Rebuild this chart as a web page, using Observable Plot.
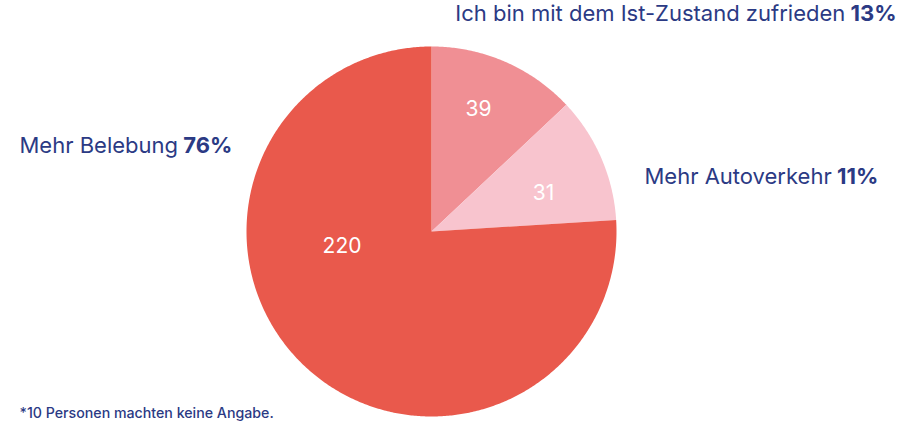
<!DOCTYPE html>
<html>
<head>
<meta charset="utf-8">
<script src="https://cdn.jsdelivr.net/npm/d3@7"></script>
<script src="https://cdn.jsdelivr.net/npm/@observablehq/plot@0.6"></script>
<style>
  html, body { margin: 0; padding: 0; background: #ffffff; }
  #chart svg { display: block; }
  #chart text { white-space: pre; }
</style>
</head>
<body>
<div id="chart"></div>
<script>
// ---- data ----
const categories = ["Ich bin mit dem Ist-Zustand zufrieden", "Mehr Autoverkehr", "Mehr Belebung"];
const counts = [39, 31, 220];
const percents = [13, 11, 76];
const colors = ["#F08F94", "#F8C4CE", "#E9594C"];
const footnote = "*10 Personen machten keine Angabe.";

// ---- layout ----
const W = 913, H = 425;
const cx = 431, cy = 231, R = 185;
const navy = "#2B3A84";
const font = "Inter, 'Noto Sans', sans-serif";

// slice angles (clockwise from 12 o'clock) from percentages
const slices = [];
let acc = 0;
categories.forEach((c, i) => {
  const a0 = acc / 100 * 2 * Math.PI;
  acc += percents[i];
  const a1 = acc / 100 * 2 * Math.PI;
  slices.push({category: c, count: counts[i], percent: percents[i], a0, a1});
});

// polygon points for each slice
const pts = [];
slices.forEach(s => {
  pts.push({category: s.category, x: cx, y: cy});
  const n = Math.max(2, Math.ceil((s.a1 - s.a0) / (Math.PI / 360)));
  for (let k = 0; k <= n; k++) {
    const a = s.a0 + (s.a1 - s.a0) * k / n;
    pts.push({category: s.category, x: cx + R * Math.sin(a), y: cy - R * Math.cos(a)});
  }
  pts.push({category: s.category, x: cx, y: cy});
});

// inner value label placement (angle in degrees, radius fraction)
const innerPlace = {
  [categories[0]]: {deg: 21, r: 0.71},
  [categories[1]]: {deg: 71, r: 0.64},
  [categories[2]]: {deg: 260.7, r: 0.49}
};
const inner = slices.map(s => {
  const p = innerPlace[s.category];
  const a = p.deg * Math.PI / 180;
  return {text: String(s.count), x: cx + R * p.r * Math.sin(a), y: cy - R * p.r * Math.cos(a)};
});

// outer label placement
const outerPlace = {
  [categories[0]]: {x: 896, y: 13, anchor: "end"},
  [categories[1]]: {x: 644, y: 176, anchor: "start"},
  [categories[2]]: {x: 19, y: 145, anchor: "start"}
};
const outer = slices.map(s => ({...outerPlace[s.category], label: s.category, pct: s.percent + "%"}));

const chart = Plot.plot({
  width: W,
  height: H,
  margin: 0,
  x: {domain: [0, W], range: [0, W], axis: null},
  y: {domain: [0, H], range: [0, H], axis: null},
  color: {domain: categories, range: colors},
  style: {fontFamily: font, background: "#ffffff"},
  marks: [
    Plot.line(pts, {x: "x", y: "y", z: "category", fill: "category", stroke: "none", curve: "linear"}),
    Plot.text(inner, {x: "x", y: "y", text: "text", fill: "#ffffff", fontSize: 21, fontWeight: 400, textAnchor: "middle"}),
    Plot.text(outer.filter(d => d.anchor === "start"), {x: "x", y: "y", text: "label", fill: navy, fontSize: 22, textAnchor: "start"}),
    Plot.text(outer.filter(d => d.anchor === "end"), {x: "x", y: "y", text: "label", fill: navy, fontSize: 22, textAnchor: "end"}),
    Plot.text([footnote], {x: 19, y: 413, text: d => d, fill: navy, fontSize: 14.2, fontWeight: 500, textAnchor: "start"})
  ]
});

// append the bold percentage to each outer label
chart.querySelectorAll("text").forEach(t => {
  const row = outer.find(d => d.label === t.textContent);
  if (!row) return;
  const ts = document.createElementNS("http://www.w3.org/2000/svg", "tspan");
  ts.setAttribute("font-weight", "700");
  ts.textContent = " " + row.pct;
  t.appendChild(ts);
});

document.getElementById("chart").appendChild(chart);
</script>
</body>
</html>
